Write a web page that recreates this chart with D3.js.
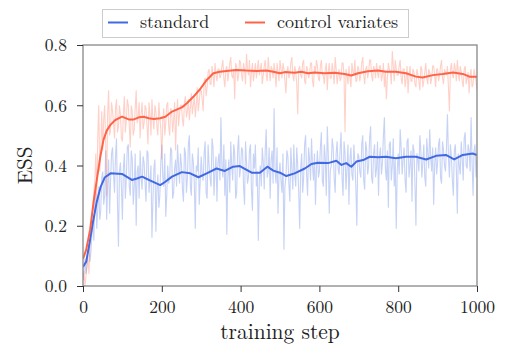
<!DOCTYPE html>
<html><head><meta charset="utf-8">
<script src="https://cdn.jsdelivr.net/npm/d3@7"></script>
<style>body{margin:0;background:#fff}svg{display:block}</style>
</head><body><svg id="c" width="512" height="361"></svg>
<script>
const xTicks = [0, 200, 400, 600, 800, 1000];
const yTicks = [0.0, 0.2, 0.4, 0.6, 0.8];
const seriesNames = ["standard", "control variates"];
const rawStep = 5;   // A values at steps 0,5,10,...; B values at steps 2.5,7.5,...
const blueRawA = [
0.02,0.09,0.06,0.14,0.11,0.22,0.28,0.19,0.33,0.25,
0.38,0.30,0.22,0.42,0.35,0.46,0.31,0.49,0.13,0.41,
0.22,0.44,0.36,0.47,0.30,0.42,0.33,0.20,0.40,0.45,
0.32,0.41,0.28,0.44,0.35,0.16,0.39,0.18,0.37,0.30,
0.47,0.33,0.23,0.40,0.36,0.45,0.31,0.42,0.47,0.34,
0.40,0.28,0.44,0.36,0.50,0.30,0.41,0.19,0.38,0.27,
0.43,0.35,0.48,0.29,0.40,0.33,0.46,0.38,0.28,0.44,
0.56,0.36,0.30,0.17,0.42,0.48,0.35,0.44,0.31,0.50,
0.39,0.45,0.27,0.41,0.36,0.47,0.25,0.39,0.33,0.15,
0.40,0.46,0.32,0.52,0.38,0.29,0.45,0.59,0.34,0.24,
0.41,0.31,0.12,0.36,0.43,0.28,0.39,0.47,0.33,0.40,
0.19,0.44,0.36,0.50,0.30,0.42,0.49,0.35,0.27,0.45,
0.38,0.51,0.33,0.42,0.53,0.24,0.40,0.46,0.31,0.48,
0.37,0.51,0.30,0.44,0.39,0.27,0.46,0.35,0.41,0.20,
0.43,0.36,0.50,0.32,0.45,0.40,0.53,0.34,0.47,0.39,
0.30,0.46,0.41,0.56,0.35,0.26,0.48,0.40,0.33,0.19,
0.44,0.52,0.37,0.46,0.31,0.49,0.40,0.28,0.45,0.20,
0.42,0.50,0.36,0.47,0.33,0.44,0.52,0.38,0.27,0.46,
0.41,0.49,0.34,0.45,0.38,0.57,0.36,0.43,0.30,0.47,
0.24,0.40,0.48,0.35,0.51,0.39,0.45,0.56,0.30,0.47,
0.44];
const blueRawB = [
0.05,0.04,0.12,0.08,0.17,0.15,0.31,0.26,0.22,0.36,
0.27,0.45,0.33,0.24,0.44,0.37,0.43,0.28,0.38,0.33,
0.39,0.29,0.46,0.33,0.45,0.27,0.44,0.38,0.29,0.36,
0.43,0.34,0.45,0.31,0.40,0.29,0.42,0.32,0.26,0.41,
0.36,0.44,0.30,0.34,0.46,0.29,0.39,0.33,0.40,0.44,
0.32,0.46,0.31,0.47,0.33,0.44,0.34,0.40,0.46,0.35,
0.37,0.44,0.31,0.47,0.36,0.49,0.30,0.43,0.41,0.35,
0.40,0.47,0.42,0.36,0.31,0.40,0.47,0.29,0.45,0.36,
0.46,0.33,0.48,0.34,0.45,0.32,0.44,0.47,0.38,0.35,
0.33,0.41,0.45,0.36,0.46,0.42,0.34,0.38,0.46,0.37,
0.35,0.44,0.33,0.45,0.34,0.46,0.32,0.37,0.46,0.31,
0.39,0.31,0.47,0.37,0.46,0.35,0.40,0.44,0.39,0.36,
0.46,0.35,0.47,0.30,0.44,0.38,0.49,0.36,0.44,0.39,
0.45,0.36,0.48,0.32,0.47,0.42,0.37,0.47,0.33,0.44,
0.38,0.47,0.35,0.48,0.37,0.49,0.36,0.44,0.36,0.48,
0.43,0.37,0.50,0.39,0.45,0.47,0.35,0.49,0.42,0.38,
0.37,0.46,0.42,0.35,0.48,0.36,0.45,0.47,0.34,0.44,
0.38,0.45,0.41,0.36,0.49,0.39,0.43,0.46,0.40,0.37,
0.47,0.36,0.48,0.40,0.46,0.43,0.47,0.35,0.45,0.39,
0.44,0.37,0.42,0.49,0.40,0.47,0.38,0.41,0.45,0.36];
const redRawA = [
0.02,0.00,0.08,0.04,0.18,0.26,0.35,0.29,0.60,0.44,
0.45,0.60,0.30,0.65,0.52,0.58,0.49,0.62,0.53,0.57,
0.48,0.63,0.55,0.60,0.46,0.58,0.52,0.65,0.56,0.49,
0.61,0.54,0.59,0.47,0.57,0.62,0.52,0.58,0.50,0.56,
0.42,0.59,0.54,0.61,0.50,0.58,0.55,0.45,0.62,0.57,
0.60,0.53,0.63,0.58,0.55,0.64,0.60,0.56,0.66,0.61,
0.65,0.58,0.69,0.66,0.72,0.67,0.70,0.74,0.68,0.72,
0.70,0.75,0.66,0.73,0.71,0.76,0.69,0.62,0.73,0.70,
0.74,0.68,0.72,0.77,0.70,0.66,0.74,0.71,0.69,0.75,
0.72,0.67,0.73,0.70,0.76,0.68,0.72,0.74,0.66,0.71,
0.75,0.69,0.72,0.64,0.73,0.70,0.76,0.68,0.71,0.57,
0.73,0.69,0.75,0.67,0.72,0.70,0.74,0.66,0.71,0.73,
0.68,0.75,0.70,0.72,0.65,0.74,0.69,0.71,0.76,0.67,
0.72,0.69,0.74,0.51,0.70,0.73,0.66,0.71,0.75,0.68,
0.72,0.70,0.76,0.67,0.73,0.71,0.75,0.68,0.72,0.74,
0.69,0.73,0.70,0.66,0.62,0.74,0.71,0.78,0.68,0.72,
0.70,0.75,0.67,0.72,0.69,0.64,0.73,0.68,0.71,0.66,
0.70,0.65,0.72,0.68,0.74,0.67,0.71,0.69,0.73,0.66,
0.72,0.70,0.75,0.67,0.71,0.73,0.58,0.74,0.69,0.72,
0.75,0.68,0.71,0.66,0.73,0.69,0.64,0.72,0.67,0.70,
0.65];
const redRawB = [
0.05,0.03,0.10,0.12,0.22,0.31,0.44,0.50,0.38,0.58,
0.55,0.48,0.57,0.50,0.61,0.54,0.59,0.51,0.60,0.49,
0.57,0.51,0.62,0.53,0.60,0.50,0.59,0.54,0.61,0.57,
0.52,0.60,0.53,0.61,0.50,0.55,0.60,0.53,0.61,0.52,
0.55,0.50,0.60,0.53,0.59,0.51,0.61,0.56,0.53,0.60,
0.55,0.61,0.56,0.62,0.59,0.57,0.63,0.60,0.58,0.65,
0.62,0.68,0.63,0.71,0.67,0.73,0.66,0.70,0.72,0.69,
0.73,0.69,0.72,0.68,0.74,0.70,0.72,0.74,0.68,0.75,
0.70,0.74,0.67,0.72,0.75,0.71,0.68,0.74,0.72,0.70,
0.74,0.70,0.75,0.68,0.72,0.73,0.69,0.71,0.74,0.68,
0.72,0.74,0.68,0.71,0.69,0.74,0.70,0.73,0.67,0.72,
0.70,0.74,0.68,0.73,0.69,0.74,0.68,0.73,0.75,0.69,
0.73,0.70,0.67,0.74,0.71,0.69,0.74,0.67,0.72,0.70,
0.68,0.74,0.70,0.72,0.67,0.69,0.74,0.70,0.68,0.73,
0.68,0.74,0.70,0.72,0.69,0.75,0.70,0.73,0.69,0.71,
0.73,0.68,0.74,0.71,0.69,0.72,0.67,0.73,0.75,0.70,
0.73,0.69,0.72,0.66,0.73,0.70,0.68,0.72,0.67,0.72,
0.68,0.73,0.66,0.71,0.69,0.72,0.67,0.73,0.70,0.72,
0.68,0.73,0.69,0.72,0.70,0.66,0.72,0.70,0.74,0.68,
0.71,0.73,0.68,0.72,0.67,0.71,0.70,0.66,0.72,0.68];
const blueSmoothSteps = [0,8,15,25,35,45,55,70,99,124,137,150,167,196,209,226,251,272,293,314,339,360,381,398,428,449,468,483,500,516,537,563,580,596,622,643,656,668,681,694,711,728,749,769,794,820,845,871,896,921,942,964,989,1000];
const blueSmooth = [0.064,0.08,0.13,0.21,0.28,0.33,0.36,0.374,0.372,0.352,0.357,0.363,0.352,0.335,0.346,0.363,0.378,0.374,0.361,0.374,0.39,0.382,0.396,0.398,0.376,0.376,0.396,0.383,0.376,0.365,0.374,0.39,0.405,0.409,0.408,0.416,0.402,0.408,0.396,0.413,0.418,0.429,0.427,0.429,0.424,0.429,0.429,0.42,0.432,0.435,0.42,0.435,0.44,0.435];
const redSmoothSteps = [0,8,18,27,35,44,52,60,69,82,99,116,129,142,154,167,180,196,209,226,251,263,280,297,314,331,347,364,389,415,440,466,483,500,512,537,554,571,588,613,639,664,681,698,723,749,769,794,820,845,862,888,913,939,964,981,1000];
const redSmooth = [0.09,0.12,0.186,0.28,0.352,0.43,0.485,0.515,0.534,0.551,0.562,0.553,0.553,0.56,0.562,0.557,0.554,0.557,0.562,0.579,0.593,0.606,0.628,0.653,0.684,0.706,0.711,0.714,0.717,0.715,0.714,0.715,0.711,0.706,0.71,0.708,0.711,0.706,0.709,0.706,0.708,0.704,0.699,0.706,0.713,0.715,0.711,0.711,0.706,0.695,0.692,0.70,0.704,0.709,0.704,0.695,0.695];

// combine A/B samples into one ordered series of {step, v}
function rawSeries(a, b) {
  const out = [];
  a.forEach((v, i) => {
    out.push({step: i * rawStep, v});
    if (i < b.length) out.push({step: i * rawStep + rawStep / 2, v: b[i]});
  });
  return out;
}

const FONT = '"Latin Modern Roman"';
const colors = {blue: "#4169e1", red: "#ff6347"};
const svg = d3.select("#c");
const m = {l: 83, r: 477, t: 45, b: 286};
const x = d3.scaleLinear().domain([0, 1000]).range([m.l, m.r]);
const y = d3.scaleLinear().domain([0, 0.8]).range([m.b, m.t]);

svg.append("clipPath").attr("id", "clip").append("rect")
  .attr("x", m.l).attr("y", m.t).attr("width", m.r - m.l).attr("height", m.b - m.t);
const g = svg.append("g").attr("clip-path", "url(#clip)");

const rawLine = d3.line().x(d => x(d.step)).y(d => y(d.v));
g.append("path").datum(rawSeries(blueRawA, blueRawB)).attr("d", rawLine).attr("fill", "none")
  .attr("stroke", colors.blue).attr("stroke-opacity", 0.3).attr("stroke-width", 1.1);
g.append("path").datum(rawSeries(redRawA, redRawB)).attr("d", rawLine).attr("fill", "none")
  .attr("stroke", colors.red).attr("stroke-opacity", 0.3).attr("stroke-width", 1.1);

const sLine = steps => d3.line().x((d, i) => x(steps[i])).y(d => y(d));
g.append("path").datum(blueSmooth).attr("d", sLine(blueSmoothSteps)).attr("fill", "none")
  .attr("stroke", colors.blue).attr("stroke-width", 2).attr("stroke-linejoin", "round");
g.append("path").datum(redSmooth).attr("d", sLine(redSmoothSteps)).attr("fill", "none")
  .attr("stroke", colors.red).attr("stroke-width", 2).attr("stroke-linejoin", "round");

// frame
svg.append("rect").attr("x", m.l).attr("y", m.t).attr("width", m.r - m.l).attr("height", m.b - m.t)
  .attr("fill", "none").attr("stroke", "#888").attr("stroke-width", 1.3);

const xAxis = svg.append("g").attr("transform", `translate(0,${m.b})`)
  .call(d3.axisBottom(x).tickValues(xTicks).tickSize(6).tickFormat(d3.format("d")));
xAxis.selectAll(".tick text").attr("y", 27).attr("dy", 0);
const yAxis = svg.append("g").attr("transform", `translate(${m.l},0)`)
  .call(d3.axisLeft(y).tickValues(yTicks).tickSize(6).tickFormat(d3.format(".1f")));
yAxis.selectAll(".tick text").attr("x", -16).attr("dy", "0.33em");
[xAxis, yAxis].forEach(a => {
  a.attr("font-family", null).attr("font-size", null);
  a.select(".domain").remove();
  a.selectAll(".tick line").attr("stroke", "#333").attr("stroke-width", 1);
  a.selectAll(".tick text").style("font-size", "17.5px").style("font-family", FONT).attr("fill", "#222");
});

svg.append("text").attr("x", (m.l + m.r) / 2).attr("y", 339).attr("text-anchor", "middle")
  .style("font-family", FONT).style("font-size", "21.5px").attr("fill", "#222").text("training step");
svg.append("text").attr("transform", `translate(31.5,${(m.t + m.b) / 2}) rotate(-90)`)
  .attr("text-anchor", "middle").style("font-family", FONT).style("font-size", "21px").attr("fill", "#222").text("ESS");

// legend
const lg = svg.append("g");
lg.append("rect").attr("x", 102.5).attr("y", 9.5).attr("width", 306).attr("height", 28)
  .attr("fill", "#fff").attr("stroke", "#ccc").attr("stroke-width", 1);
const items = [{name: seriesNames[0], c: colors.blue, x: 108}, {name: seriesNames[1], c: colors.red, x: 245}];
items.forEach(it => {
  lg.append("line").attr("x1", it.x).attr("x2", it.x + 20).attr("y1", 22.5).attr("y2", 22.5)
    .attr("stroke", it.c).attr("stroke-width", 2);
  lg.append("text").attr("x", it.x + 32).attr("y", 28).style("font-family", FONT)
    .style("font-size", "18px").attr("fill", "#222").text(it.name);
});
</script></body></html>
